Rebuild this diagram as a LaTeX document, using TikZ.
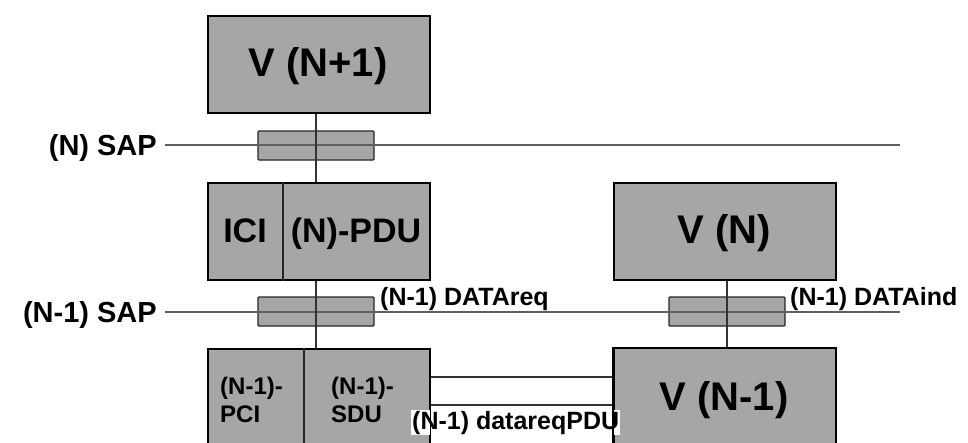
\documentclass[tikz,border=0pt]{standalone}
\usepackage{fontspec}
\setmainfont{Liberation Sans}
\definecolor{boxgray}{RGB}{166,166,166}
\definecolor{linegray}{RGB}{95,95,95}
\begin{document}
\begin{tikzpicture}[x=1pt,y=-1pt,
  box/.style={draw=black, line width=1.6pt, fill=boxgray, inner sep=0pt,
    anchor=north west, minimum width=222pt, minimum height=97pt},
  big/.style={font=\fontsize{40}{44}\selectfont\bfseries, inner sep=0pt, anchor=base},
  mid/.style={font=\fontsize{34}{38}\selectfont\bfseries, inner sep=0pt, anchor=base},
  small/.style={font=\fontsize{24}{28}\selectfont\bfseries, inner sep=0pt,
    align=left, anchor=base west},
  sapbox/.style={draw=black!85, line width=1.3pt, fill=boxgray, inner sep=0pt,
    minimum width=116pt, minimum height=29pt, rounded corners=1pt},
  sapline/.style={draw=linegray, line width=2.4pt},
  link/.style={draw=black!80, line width=1.6pt},
  divider/.style={draw=black!85, line width=1.6pt},
  lbl/.style={font=\fontsize{25}{28}\selectfont\bfseries, inner sep=0pt, anchor=base west},
  saplbl/.style={font=\fontsize{29}{32}\selectfont\bfseries, inner sep=0pt, anchor=base east}]
\useasboundingbox (0,0) rectangle (968,442);
\clip (0,0) rectangle (968,442);

% layer boxes
\node[box] (vn1) at (207,15) {};
\node[box] (pdu) at (207,182) {};
\node[box] (vn) at (613,182) {};
\node[box, minimum height=115pt] (pci) at (207,348) {};
\node[box, minimum height=115pt] (vm1) at (613,347) {};

% dividers inside the split boxes
\draw[divider] (pdu.north west) ++(76,0) coordinate (pdutop) -- (pdutop |- pdu.south);
\draw[divider] (pci.north west) ++(97,0) coordinate (pcitop) -- (pcitop |- pci.south);

% box texts
\node[big] (tvn1) at (318,76) {V (N+1)};
\node[mid] (tici) at (245,242) {ICI};
\node[mid] (tpdu) at (356,242) {(N)-PDU};
\node[big] (tvn) at (724,243) {V (N)};
\node[big] (tvm1) at (724,410) {V (N-1)};
\node[small] (tpci) at (220,394) {(N-1)-};
\node[small] (tpci2) at (220,422) {PCI};
\node[small] (tsdu) at (331,394) {(N-1)-};
\node[small] (tsdu2) at (331,422) {SDU};

% service access points
\node[sapbox] (sap1) at (316,145.5) {};
\node[sapbox] (sap2) at (316,311.5) {};
\node[sapbox] (sap3) at (727,311.5) {};

\coordinate (s1l) at (165,145);
\coordinate (s1r) at (900,145);
\coordinate (s2l) at (165,312);
\coordinate (s2r) at (900,312);
\draw[sapline] (s1l) -- (s1r);
\draw[sapline] (s2l) -- (s2r);

% vertical links through the SAPs
\draw[link] (sap1.north |- vn1.south) -- (sap1.south |- pdu.north);
\draw[link] (sap2.north |- pdu.south) -- (sap2.south |- pci.north);
\draw[link] (sap3.north |- vn.south) -- (sap3.south |- vm1.north);

% peer channel between the (N-1) entities
\draw[link] (pci.north east |- 0,377) -- (vm1.north west |- 0,377);
\draw[link] (pci.north east |- 0,405) -- (vm1.north west |- 0,405);

% labels
\node[saplbl] (lsap1) at (157,155) {(N) SAP};
\node[saplbl] (lsap2) at (157,322) {(N-1) SAP};
\node[lbl] (lreq) at (380,305) {(N-1) DATAreq};
\node[lbl] (lind) at (790,305) {(N-1) DATAind};
\node[lbl, fill=white, inner sep=1pt] (lpdu) at (411,429) {(N-1) datareqPDU};

% box edges over the channel label
\draw[draw=black, line width=1.6pt] (pci.north east) -- (pci.south east);
\draw[draw=black, line width=1.6pt] (vm1.north west) -- (vm1.south west);
\end{tikzpicture}
\end{document}
